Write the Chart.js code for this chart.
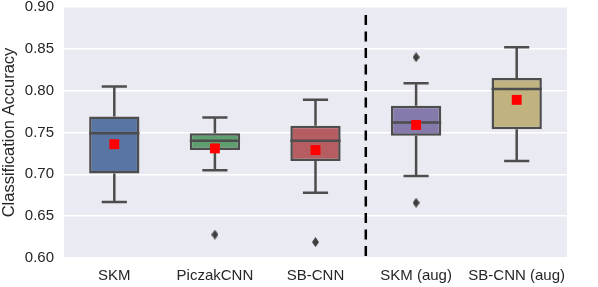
<!DOCTYPE html>
<html>
<head>
<meta charset="utf-8">
<script src="https://cdn.jsdelivr.net/npm/chart.js@4/dist/chart.umd.min.js"></script>
<style>
  html, body { margin: 0; padding: 0; background: #fff; }
  #wrap { width: 598px; height: 287px; }
</style>
</head>
<body>
<div id="wrap"><canvas id="accChart"></canvas></div>
<script>
// data
const categories = ['SKM', 'PiczakCNN', 'SB-CNN', 'SKM (aug)', 'SB-CNN (aug)'];
const whiskerLow = [0.667, 0.705, 0.678, 0.698, 0.716];
const q1 = [0.701, 0.729, 0.716, 0.746, 0.754];
const median = [0.749, 0.740, 0.740, 0.762, 0.802];
const q3 = [0.769, 0.749, 0.758, 0.782, 0.815];
const whiskerHigh = [0.805, 0.768, 0.789, 0.809, 0.852];
const means = [0.736, 0.731, 0.729, 0.759, 0.789];
const outliers = [
  { x: 'PiczakCNN', y: 0.628 },
  { x: 'SB-CNN', y: 0.619 },
  { x: 'SKM (aug)', y: 0.840 },
  { x: 'SKM (aug)', y: 0.666 }
];
const yTicks = [0.60, 0.65, 0.70, 0.75, 0.80, 0.85, 0.90];

const boxColors = ['#5975a4', '#5f9e6e', '#b55d60', '#857aab', '#c1b37f'];
const edgeColor = '#4d4d4d';

// thin diamond for fliers
const flier = document.createElement('canvas');
flier.width = 7; flier.height = 10;
(function() {
  const c = flier.getContext('2d');
  c.fillStyle = '#3f3f3f';
  c.beginPath();
  c.moveTo(3.5, 0); c.lineTo(7, 5); c.lineTo(3.5, 10); c.lineTo(0, 5);
  c.closePath(); c.fill();
})();

const boxPlugin = {
  id: 'boxParts',
  beforeDraw(chart) {
    const a = chart.chartArea, ctx = chart.ctx;
    ctx.save();
    ctx.fillStyle = '#eaeaf2';
    ctx.fillRect(a.left, a.top, a.right - a.left, a.bottom - a.top);
    ctx.restore();
  },
  afterDatasetDraw(chart, args) {
    if (args.index !== 0) return;
    const ctx = chart.ctx, ys = chart.scales.y;
    const meta = chart.getDatasetMeta(0);
    ctx.save();
    ctx.strokeStyle = edgeColor;
    ctx.lineWidth = 2.5;
    categories.forEach(function(c, i) {
      const bar = meta.data[i];
      const cx = bar.x;
      const half = bar.width / 2;
      const capHalf = half / 2;
      const yq1 = ys.getPixelForValue(q1[i]);
      const yq3 = ys.getPixelForValue(q3[i]);
      const yLo = ys.getPixelForValue(whiskerLow[i]);
      const yHi = ys.getPixelForValue(whiskerHigh[i]);
      const yMed = ys.getPixelForValue(median[i]);
      ctx.beginPath();
      ctx.moveTo(cx, yq3); ctx.lineTo(cx, yHi);
      ctx.moveTo(cx, yq1); ctx.lineTo(cx, yLo);
      ctx.moveTo(cx - capHalf, yHi); ctx.lineTo(cx + capHalf, yHi);
      ctx.moveTo(cx - capHalf, yLo); ctx.lineTo(cx + capHalf, yLo);
      ctx.moveTo(cx - half, yMed); ctx.lineTo(cx + half, yMed);
      ctx.stroke();
    });
    ctx.restore();
  },
  afterDraw(chart) {
    const ctx = chart.ctx, xs = chart.scales.x, a = chart.chartArea;
    const xLine = (xs.getPixelForValue(2) + xs.getPixelForValue(3)) / 2;
    ctx.save();
    ctx.strokeStyle = '#000';
    ctx.lineWidth = 2.5;
    ctx.setLineDash([10, 6.5]);
    ctx.beginPath();
    ctx.moveTo(xLine, a.top + 8);
    ctx.lineTo(xLine, a.bottom);
    ctx.stroke();
    ctx.restore();
  }
};

new Chart(document.getElementById('accChart').getContext('2d'), {
  type: 'bar',
  data: {
    labels: categories,
    datasets: [{
      label: 'box',
      data: categories.map((c, i) => [q1[i], q3[i]]),
      backgroundColor: boxColors,
      borderColor: edgeColor,
      borderWidth: 2.5,
      borderSkipped: false,
      categoryPercentage: 1,
      barPercentage: 0.5,
      order: 3
    }, {
      type: 'line',
      label: 'mean',
      data: means,
      showLine: false,
      pointStyle: 'rect',
      pointRadius: 7,
      pointHoverRadius: 7,
      pointBackgroundColor: '#ff0000',
      pointBorderColor: '#ff0000',
      pointBorderWidth: 0,
      order: 1
    }, {
      type: 'line',
      label: 'outliers',
      data: outliers,
      showLine: false,
      pointStyle: flier,
      order: 2
    }]
  },
  options: {
    responsive: true,
    maintainAspectRatio: false,
    animation: false,
    layout: { padding: { top: 7, right: 31, left: 0, bottom: 0 } },
    plugins: { legend: { display: false }, tooltip: { enabled: false } },
    scales: {
      x: {
        grid: { display: false, drawTicks: false },
        border: { display: false },
        ticks: { color: '#262626', font: { family: 'Liberation Sans', size: 15 }, padding: 9, maxRotation: 0 },
        afterFit(scale) { scale.height = 29; scale.paddingLeft = 0; scale.paddingRight = 0; }
      },
      y: {
        min: 0.6,
        max: 0.9,
        afterBuildTicks(axis) { axis.ticks = yTicks.map(v => ({ value: v })); },
        grid: { color: '#ffffff', lineWidth: 1.5, drawTicks: false },
        border: { display: false },
        ticks: {
          color: '#262626',
          font: { family: 'Liberation Sans', size: 15 },
          padding: 10,
          callback: v => v.toFixed(2)
        },
        title: {
          display: true,
          text: 'Classification Accuracy',
          color: '#262626',
          font: { family: 'Liberation Sans', size: 16.5 },
          padding: { top: 0, bottom: 4 }
        },
        afterFit(scale) { scale.width = 64; scale.paddingTop = 0; scale.paddingBottom = 0; }
      }
    }
  },
  plugins: [boxPlugin]
});
</script>
</body>
</html>
